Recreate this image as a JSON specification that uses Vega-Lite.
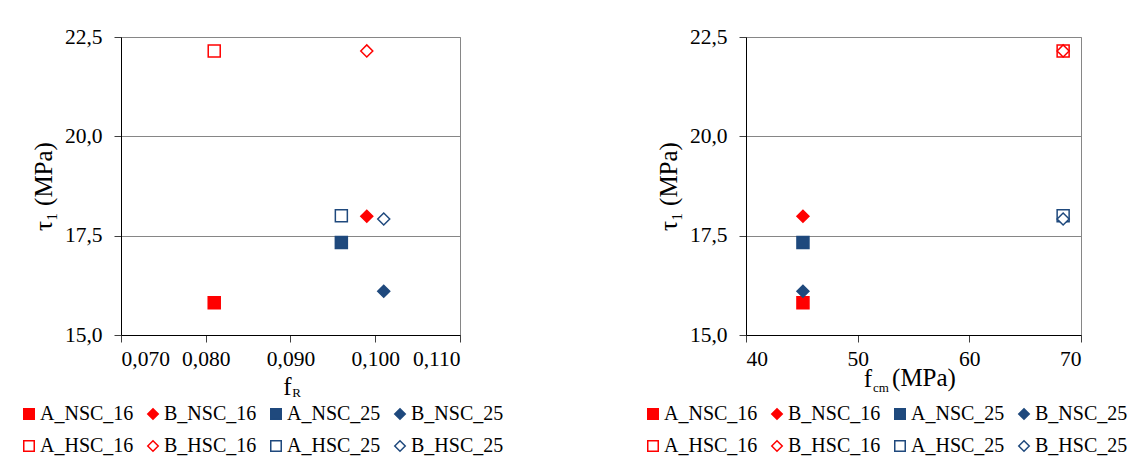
{
  "$schema": "https://vega.github.io/schema/vega-lite/v6.json",
  "background": "white",
  "padding": {"left": 18, "top": 25, "right": 0, "bottom": 0},
  "datasets": {
    "pts": [
      {"series": "A_NSC_16", "fR": 0.081, "fcm": 45.1, "tau": 15.81},
      {"series": "B_NSC_16", "fR": 0.099, "fcm": 45.1, "tau": 17.99},
      {"series": "A_NSC_25", "fR": 0.096, "fcm": 45.1, "tau": 17.33},
      {"series": "B_NSC_25", "fR": 0.101, "fcm": 45.1, "tau": 16.10},
      {"series": "A_HSC_16", "fR": 0.081, "fcm": 68.4, "tau": 22.15},
      {"series": "B_HSC_16", "fR": 0.099, "fcm": 68.4, "tau": 22.15},
      {"series": "A_HSC_25", "fR": 0.096, "fcm": 68.4, "tau": 18.00},
      {"series": "B_HSC_25", "fR": 0.101, "fcm": 68.4, "tau": 17.92}
    ]
  },
  "bounds": "flush",
  "spacing": 286,
  "hconcat": [
    {
      "width": 339,
      "height": 298,
      "data": {"name": "pts"},
      "layer": [
        {
          "mark": {"type": "point", "filled": true, "opacity": 1, "size": 144, "strokeWidth": 1.5},
          "encoding": {
            "x": {"field": "fR", "type": "quantitative",
              "scale": {"domain": [0.07, 0.11], "nice": false, "zero": false},
              "axis": {"values": [0.07, 0.08, 0.09, 0.1, 0.11], "format": ".3f", "grid": false, "labelPadding": 6,
                "title": "f", "titleX": 166, "titleY": 59, "titleBaseline": "alphabetic", "titleAlign": "center", "titleAnchor": null}},
            "y": {"field": "tau", "type": "quantitative",
              "scale": {"domain": [15, 22.5], "nice": false, "zero": false},
              "axis": {"values": [15, 17.5, 20, 22.5], "format": ".1f", "grid": true, "title": "τ₁ (MPa)", "titlePadding": 8}},
            "fill": {"field": "series", "type": "nominal",
              "scale": {"domain": ["A_NSC_16", "B_NSC_16", "A_NSC_25", "B_NSC_25", "A_HSC_16", "B_HSC_16", "A_HSC_25", "B_HSC_25"],
                "range": ["#FF0000", "#FF0000", "#1F497D", "#1F497D", "#FFFFFF", "#FFFFFF", "#FFFFFF", "#FFFFFF"]},
              "legend": {"orient": "none", "legendX": -102, "legendY": 367, "columns": 4, "direction": "horizontal", "title": null}},
            "stroke": {"field": "series", "type": "nominal",
              "scale": {"domain": ["A_NSC_16", "B_NSC_16", "A_NSC_25", "B_NSC_25", "A_HSC_16", "B_HSC_16", "A_HSC_25", "B_HSC_25"],
                "range": ["#FF0000", "#FF0000", "#1F497D", "#1F497D", "#FF0000", "#FF0000", "#1F497D", "#1F497D"]},
              "legend": {"orient": "none", "legendX": -102, "legendY": 367, "columns": 4, "direction": "horizontal", "title": null}},
            "shape": {"field": "series", "type": "nominal",
              "scale": {"domain": ["A_NSC_16", "B_NSC_16", "A_NSC_25", "B_NSC_25", "A_HSC_16", "B_HSC_16", "A_HSC_25", "B_HSC_25"],
                "range": ["square", "diamond", "square", "diamond", "square", "diamond", "square", "diamond"]},
              "legend": {"orient": "none", "legendX": -102, "legendY": 367, "columns": 4, "direction": "horizontal", "title": null}}
          }
        },
        {
          "mark": {"type": "point", "opacity": 0},
          "encoding": {
            "x": {"field": "fR", "type": "quantitative",
              "scale": {"domain": [0.07, 0.11], "nice": false, "zero": false},
              "axis": {"orient": "top", "domain": false, "ticks": false, "labels": false, "grid": false, "minExtent": 0, "maxExtent": 0,
                "title": "R", "titleFontSize": 13, "titleX": 175, "titleY": 359, "titleBaseline": "alphabetic", "titleAlign": "center", "titleAnchor": null}}
          }
        }
      ],
      "resolve": {"axis": {"x": "independent"}}
    },
    {
      "width": 335,
      "height": 298,
      "data": {"name": "pts"},
      "layer": [
        {
          "mark": {"type": "point", "filled": true, "opacity": 1, "size": 144, "strokeWidth": 1.5},
          "encoding": {
            "x": {"field": "fcm", "type": "quantitative",
              "scale": {"domain": [40, 70], "nice": false, "zero": false},
              "axis": {"values": [40, 50, 60, 70], "format": "d", "grid": false, "labelPadding": 6,
                "title": "f", "titleX": 121.5, "titleY": 51, "titleBaseline": "alphabetic", "titleAlign": "center", "titleAnchor": null}},
            "y": {"field": "tau", "type": "quantitative",
              "scale": {"domain": [15, 22.5], "nice": false, "zero": false},
              "axis": {"values": [15, 17.5, 20, 22.5], "format": ".1f", "grid": true, "title": "τ₁ (MPa)", "titlePadding": 8}},
            "fill": {"field": "series", "type": "nominal",
              "scale": {"domain": ["A_NSC_16", "B_NSC_16", "A_NSC_25", "B_NSC_25", "A_HSC_16", "B_HSC_16", "A_HSC_25", "B_HSC_25"],
                "range": ["#FF0000", "#FF0000", "#1F497D", "#1F497D", "#FFFFFF", "#FFFFFF", "#FFFFFF", "#FFFFFF"]},
              "legend": {"orient": "none", "legendX": -103, "legendY": 367, "columns": 4, "direction": "horizontal", "title": null}},
            "stroke": {"field": "series", "type": "nominal",
              "scale": {"domain": ["A_NSC_16", "B_NSC_16", "A_NSC_25", "B_NSC_25", "A_HSC_16", "B_HSC_16", "A_HSC_25", "B_HSC_25"],
                "range": ["#FF0000", "#FF0000", "#1F497D", "#1F497D", "#FF0000", "#FF0000", "#1F497D", "#1F497D"]},
              "legend": {"orient": "none", "legendX": -103, "legendY": 367, "columns": 4, "direction": "horizontal", "title": null}},
            "shape": {"field": "series", "type": "nominal",
              "scale": {"domain": ["A_NSC_16", "B_NSC_16", "A_NSC_25", "B_NSC_25", "A_HSC_16", "B_HSC_16", "A_HSC_25", "B_HSC_25"],
                "range": ["square", "diamond", "square", "diamond", "square", "diamond", "square", "diamond"]},
              "legend": {"orient": "none", "legendX": -103, "legendY": 367, "columns": 4, "direction": "horizontal", "title": null}}
          }
        },
        {
          "mark": {"type": "point", "opacity": 0},
          "encoding": {
            "x": {"field": "fcm", "type": "quantitative",
              "scale": {"domain": [40, 70], "nice": false, "zero": false},
              "axis": {"orient": "top", "domain": false, "ticks": false, "labels": false, "grid": false, "minExtent": 0, "maxExtent": 0,
                "title": "cm", "titleFontSize": 13, "titleX": 134.5, "titleY": 354, "titleBaseline": "alphabetic", "titleAlign": "center", "titleAnchor": null}},
            "y": {"field": "tau", "type": "quantitative",
              "scale": {"domain": [15, 22.5], "nice": false, "zero": false},
              "axis": {"orient": "right", "domain": false, "ticks": false, "labels": false, "grid": false, "minExtent": 0, "maxExtent": 0,
                "title": "(MPa)", "titleAngle": 0, "titleX": -157.5, "titleY": 348, "titleBaseline": "alphabetic", "titleAlign": "center", "titleAnchor": null}}
          }
        }
      ],
      "resolve": {"axis": {"x": "independent", "y": "independent"}}
    }
  ],
  "resolve": {
    "scale": {"x": "independent", "y": "independent", "fill": "independent", "stroke": "independent", "shape": "independent"},
    "legend": {"fill": "independent", "stroke": "independent", "shape": "independent"}
  },
  "config": {
    "font": "Times New Roman, Liberation Serif, DejaVu Serif, serif",
    "locale": {"number": {"decimal": ",", "thousands": ".", "grouping": [3], "currency": ["", " €"]}},
    "view": {"stroke": "#868686", "strokeWidth": 1},
    "axis": {
      "labelFont": "Times New Roman, Liberation Serif, DejaVu Serif, serif", "labelFontSize": 21.5, "labelColor": "#000000",
      "titleFont": "Times New Roman, Liberation Serif, DejaVu Serif, serif", "titleFontSize": 25, "titleFontWeight": "normal", "titleColor": "#000000",
      "domainColor": "#000000", "domainWidth": 1, "tickColor": "#404040", "tickSize": 7, "labelPadding": 12,
      "gridColor": "#868686", "gridWidth": 1.2
    },
    "legend": {
      "labelFont": "Times New Roman, Liberation Serif, DejaVu Serif, serif", "labelFontSize": 20, "labelColor": "#000000", "labelOffset": 1,
      "symbolSize": 110, "symbolStrokeWidth": 1.5, "padding": 0, "rowPadding": 12, "columnPadding": 9,
      "symbolOpacity": 1
    }
  }
}
